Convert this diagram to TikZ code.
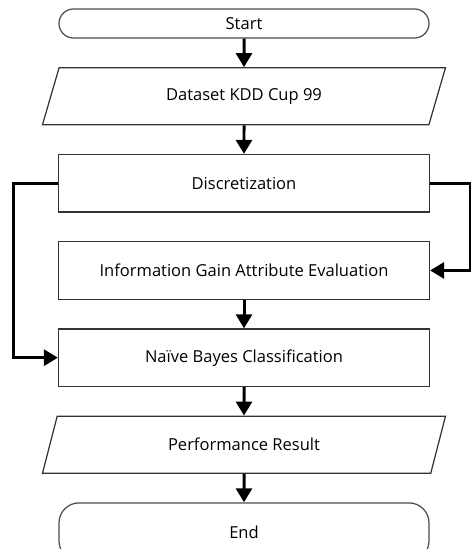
\documentclass[tikz,border=0pt]{standalone}
\usepackage{fontspec}
\setmainfont{Open Sans}
\usepackage{tikz}
\usetikzlibrary{shapes.geometric,arrows.meta,positioning}

\begin{document}
\begin{tikzpicture}[
        node distance=0.57cm,
        term/.style={rectangle, draw=black!70, line width=0.7pt, minimum width=7.4cm, minimum height=0.58cm, rounded corners=0.29cm, align=center, font=\fontsize{9.4}{11}\selectfont},
        io/.style={trapezium, trapezium left angle=59, trapezium right angle=121, trapezium stretches body, draw=black!80, line width=0.7pt, minimum width=8.06cm, minimum height=1.14cm, align=center, font=\fontsize{9.4}{11}\selectfont},
        box/.style={rectangle, draw=black!80, line width=0.7pt, minimum width=7.42cm, minimum height=1.15cm, align=center, font=\fontsize{9.4}{11}\selectfont},
        arrow/.style={-{Triangle[length=0.28cm, width=0.32cm]}, line width=1.7pt}
    ]
    \useasboundingbox (0,0) rectangle (9.42,-10.98);

    % Main flow
    \node[term] (start) at (4.88,-0.47) {Start};
    \node[io, below=of start] (data) {Dataset KDD Cup 99};
    \node[box, below=of data] (disc) {Discretization};
    \node[box, below=of disc] (info) {Information Gain Attribute Evaluation};
    \node[box, below=of info] (nb) {Naïve Bayes Classification};
    \node[io, below=of nb] (perf) {Performance Result};
    \node[term, below=of perf, minimum height=1.16cm, rounded corners=0.4cm] (end) {End};

    % Straight arrows
    \draw[arrow] (start) -- (data);
    \draw[arrow] (data) -- (disc);
    \draw[arrow] (info) -- (nb);
    \draw[arrow] (nb) -- (perf);
    \draw[arrow] (perf) -- (end);

    % Side loops
    \draw[arrow] (disc.west) -- ++(-0.88,0) |- (nb.west);
    \draw[arrow] (disc.east) -- ++(0.8,0) |- (info.east);

\end{tikzpicture}
\end{document}
